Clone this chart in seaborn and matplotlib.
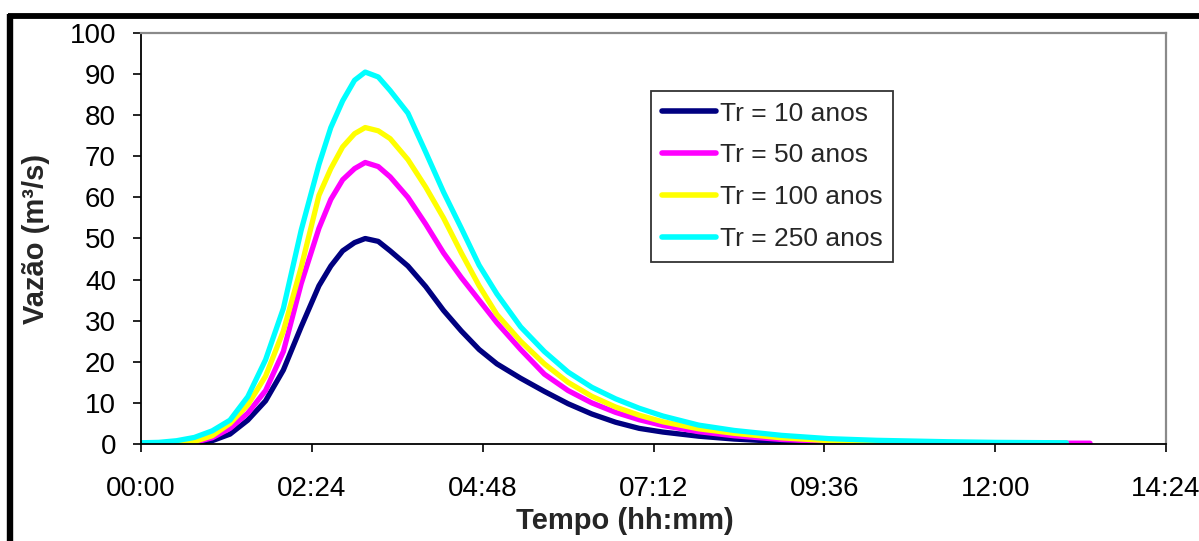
import matplotlib
matplotlib.use("Agg")
import matplotlib.pyplot as plt
from matplotlib.lines import Line2D
from matplotlib.ticker import FuncFormatter, MultipleLocator
import seaborn as sns
import pandas as pd

# ---- data (minutes since start, discharge m3/s) ----
time_min = [0, 15, 30, 45, 60, 75, 90, 105, 120, 135, 150, 160, 170, 180, 189, 200, 210,
            225, 240, 255, 270, 285, 300, 320, 340, 360, 380, 400, 420, 440, 470,
            500, 540, 580, 620, 680, 720, 780, 800]
q_tr10 = [None, None, None, 0, 0.8, 2.4, 5.8, 10.5, 18, 28.5, 38.5, 43.3, 47, 49, 50, 49.3, 47,
          43.3, 38.3, 32.5, 27.5, 23, 19.5, 16, 12.8, 9.8, 7.3, 5.3, 3.8, 2.9, 1.9,
          1.2, 0.6, 0.2, 0.05, 0, None, None, None]
q_tr50 = [None, None, 0.1, 0.4, 1.5, 3.8, 7.5, 13, 22.5, 39, 52.5, 59.5, 64.3, 67, 68.5, 67.5, 65,
          60, 53.5, 46.5, 40.5, 35, 29.5, 23, 17, 13, 10, 7.7, 5.9, 4.5, 3,
          2, 1.1, 0.6, 0.4, 0.25, 0.2, 0.2, 0.2]
q_tr100 = [None, None, 0.1, 0.6, 2.0, 5, 9.5, 16.5, 27.5, 43, 60.5, 67, 72.3, 75.5, 77, 76.2, 74.3,
           69.2, 62.5, 55, 46.5, 38.5, 31.5, 25, 19.5, 15, 11.6, 9, 7, 5.4, 3.7,
           2.6, 1.5, 0.8, 0.5, 0.3, 0.25, 0.2, None]
q_tr250 = [0.3, 0.4, 0.8, 1.6, 3.2, 5.8, 11.5, 20.5, 33, 52, 68, 77, 83.5, 88.5, 90.5, 89.3, 86,
           80.5, 71, 61.3, 52.5, 43.5, 36.5, 28.5, 22.5, 17.5, 13.8, 11, 8.7, 6.8, 4.6,
           3.3, 2.1, 1.3, 0.9, 0.55, 0.4, 0.3, None]
series_labels = ["Tr = 10 anos", "Tr = 50 anos", "Tr = 100 anos", "Tr = 250 anos"]
series_colors = ["#000080", "#FF00FF", "#FFFF00", "#00FFFF"]
y_ticks = list(range(0, 101, 10))
x_tick_step = 144  # minutes (02:24)

rows = []
for lab, vals in zip(series_labels, [q_tr10, q_tr50, q_tr100, q_tr250]):
    for t, v in zip(time_min, vals):
        if v is not None:
            rows.append({"t": t, "q": v, "serie": lab})
df = pd.DataFrame(rows)

sns.set_theme(style="white")
plt.rcParams["font.family"] = ["Liberation Sans", "DejaVu Sans"]

fig = plt.figure(figsize=(11.99, 5.41), dpi=100)
ax = fig.add_axes([141 / 1199, 1 - 444 / 541, (1166 - 141) / 1199, (444 - 33) / 541])

sns.lineplot(data=df, x="t", y="q", hue="serie", hue_order=series_labels,
             palette=dict(zip(series_labels, series_colors)), lw=3.8, ax=ax,
             sort=True, estimator=None)

ax.set_xlim(0, 864)
ax.set_ylim(0, 100)
ax.set_yticks(y_ticks)
ax.xaxis.set_major_locator(MultipleLocator(x_tick_step))
ax.xaxis.set_major_formatter(FuncFormatter(lambda v, p: f"{int(v)//60:02d}:{int(v)%60:02d}"))

fs_tick = 20
fs_lab = 21
fs_leg = 19
ax.tick_params(axis="both", direction="out", length=6, width=1.2, colors="#000000",
               labelsize=fs_tick, left=True, bottom=True)
ax.tick_params(axis="x", pad=17)
ax.tick_params(axis="y", pad=12)
for s in ["left", "bottom"]:
    ax.spines[s].set_color("#000000")
    ax.spines[s].set_linewidth(1.3)
for s in ["top", "right"]:
    ax.spines[s].set_color("#8a8a8a")
    ax.spines[s].set_linewidth(1.6)

ax.set_xlabel("Tempo (hh:mm)", fontsize=fs_lab, fontweight="bold")
ax.set_ylabel("Vazão (m³/s)", fontsize=fs_lab, fontweight="bold")
ax.xaxis.set_label_coords((625 - 141) / 1025, (444 - 507) / 411)
ax.yaxis.set_label_coords((50 - 141) / 1025, 0.5)

handles, labels = ax.get_legend_handles_labels()
for h in handles:
    h.set_linewidth(4)
leg = ax.legend(handles, labels, loc="upper left",
                bbox_to_anchor=(651 / 1199, 1 - 91 / 541), bbox_transform=fig.transFigure,
                prop={"size": fs_leg}, frameon=True, fancybox=False, framealpha=1,
                edgecolor="#333333", handlelength=2.05, handletextpad=0.15,
                labelspacing=0.68, borderpad=0.4, borderaxespad=0)
leg.get_frame().set_linewidth(1.3)

# outer black frame (top and left edges visible)
fig.add_artist(Line2D([8 / 1199, 1.0], [1 - 16 / 541, 1 - 16 / 541],
                      transform=fig.transFigure, color="black", lw=4.2, solid_capstyle="butt"))
fig.add_artist(Line2D([10.5 / 1199, 10.5 / 1199], [1 - 14 / 541, 0.0],
                      transform=fig.transFigure, color="black", lw=4.6, solid_capstyle="butt"))

fig.savefig("out.png", dpi=100)
